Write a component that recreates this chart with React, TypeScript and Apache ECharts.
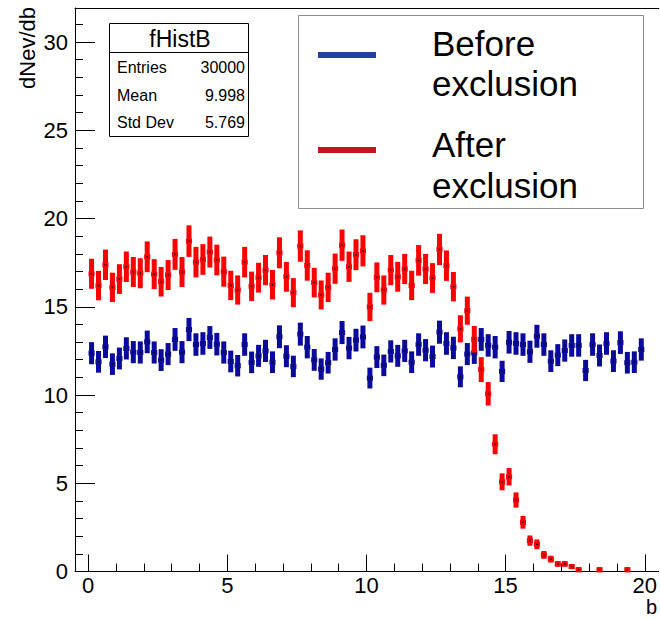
import React, { useEffect, useRef } from "react";
import * as echarts from "echarts";

// Histogram binning
const BIN_LOW = 0;
const BIN_WIDTH = 0.25;

// "Before exclusion" bin contents (dNev/db), 80 bins from 0 to 20
const beforeValues: number[] = [
  12.37, 11.88, 12.73, 11.75, 12.07, 12.64, 12.43, 12.41, 13.01, 12.41,
  11.98, 12.32, 13.15, 12.43, 13.71, 12.86, 12.92, 13.26, 12.88, 12.41,
  11.9, 11.66, 12.86, 11.85, 12.22, 12.5, 11.86, 13.3, 12.2, 11.62,
  13.45, 12.71, 11.99, 11.47, 11.83, 12.58, 13.54, 12.66, 13.11, 13.29,
  10.96, 12.15, 11.68, 12.47, 12.22, 12.5, 11.86, 12.86, 12.54, 12.18,
  13.56, 12.92, 12.67, 11.03, 12.32, 12.39, 13.15, 12.81, 12.71, 11.34,
  12.99, 12.92, 12.86, 12.45, 13.33, 12.86, 11.92, 12.26, 12.52, 12.81,
  12.81, 11.39, 12.86, 12.24, 12.92, 11.92, 12.97, 11.83, 11.86, 12.58,
];

// "After exclusion" bin contents (null = empty bin, not drawn)
const afterValues: (number | null)[] = [
  16.87, 16.2, 17.38, 16.1, 16.57, 17.27, 16.97, 16.9, 17.83, 16.85,
  16.42, 16.8, 17.97, 16.97, 18.72, 17.53, 17.68, 18.1, 17.65, 16.99,
  16.21, 15.95, 17.53, 16.16, 16.65, 17.08, 16.25, 18.06, 16.7, 15.8,
  18.44, 17.34, 16.37, 15.67, 16.1, 17.16, 18.49, 17.27, 17.95, 18.17,
  14.99, 16.67, 15.95, 17.08, 16.7, 17.14, 16.21, 17.63, 17.14, 16.63,
  18.25, 17.33, 16.14, 13.75, 14.78, 13.16, 11.44, 10.07, 7.21, 5.08,
  5.37, 4.05, 2.79, 1.75, 1.54, 0.94, 0.7, 0.43, 0.43, 0.28,
  0.1, null, null, 0.1, null, null, null, 0.1, null, null,
];

// Poisson-like error scale per series (err = k * sqrt(content))
const BEFORE_ERR_K = 0.17;
const AFTER_ERR_K = 0.2;

// Axis ticks
const xMajorTicks = [0, 5, 10, 15, 20];
const xMinorTicks = [1, 2, 3, 4, 6, 7, 8, 9, 11, 12, 13, 14, 16, 17, 18, 19];
const yMajorTicks = [0, 5, 10, 15, 20, 25, 30];
const yMinorTicks = [
  1, 2, 3, 4, 6, 7, 8, 9, 11, 12, 13, 14, 16, 17, 18, 19, 21, 22, 23, 24, 26,
  27, 28, 29, 31,
];

const X_MIN = -0.47;
const X_MAX = 20.5;
const Y_MIN = 0;
const Y_MAX = 31.93;

// Stats box
const statsTitle = "fHistB";
const statsLabels = ["Entries", "Mean", "Std Dev"];
const statsValues = ["30000", "9.998", "5.769"];

// Legend
const legendEntries = [
  { lines: ["Before", "exclusion"], color: "#22409e" },
  { lines: ["After", "exclusion"], color: "#c3161c" },
];

const yTitle = "dNev/db";
const xTitle = "b";

const FONT = "'Liberation Sans', Arial, Helvetica, sans-serif";

function buildData(values: (number | null)[], k: number) {
  const out: number[][] = [];
  values.forEach((v, i) => {
    if (v === null || v === undefined) return;
    const x = BIN_LOW + BIN_WIDTH * (i + 0.5);
    out.push([x, v, k * Math.sqrt(v)]);
  });
  return out;
}

function makeRender(color: string) {
  return (params: any, api: any) => {
    const x = api.value(0);
    const y = api.value(1);
    const e = api.value(2);
    const c = api.coord([x, y]);
    const top = api.coord([x, y + e]);
    const bot = api.coord([x, y - e]);
    const l = api.coord([x - BIN_WIDTH * 0.44, y]);
    const r = api.coord([x + BIN_WIDTH * 0.44, y]);
    const vh = Math.max(bot[1] - top[1] + 1, 5);
    const vy = (top[1] + bot[1]) / 2 - vh / 2;
    return {
      type: "group",
      children: [
        {
          type: "rect",
          shape: { x: c[0] - 2.5, y: vy, width: 5, height: vh },
          style: { fill: color },
        },
        {
          type: "rect",
          shape: { x: l[0], y: c[1] - 2.5, width: r[0] - l[0], height: 5 },
          style: { fill: color },
        },
        {
          type: "rect",
          shape: { x: c[0] - 0.75, y: c[1] - 0.75, width: 1.5, height: 1.5 },
          style: { fill: "#000" },
        },
      ],
    };
  };
}

export default function App() {
  const ref = useRef<HTMLDivElement>(null);

  useEffect(() => {
    if (!ref.current) return;
    const chart = echarts.init(ref.current, undefined, { renderer: "svg" });

    const axisLineStyle = { color: "#000", width: 1 };

    const graphics: any[] = [];
    // y-axis title
    graphics.push({
      type: "text",
      x: 27,
      y: 48,
      rotation: Math.PI / 2,
      style: {
        text: yTitle,
        font: `22px ${FONT}`,
        fill: "#000",
        textAlign: "center",
        textVerticalAlign: "middle",
      },
    });
    // x-axis title
    graphics.push({
      type: "text",
      x: 657,
      y: 607,
      style: {
        text: xTitle,
        font: `20px ${FONT}`,
        fill: "#000",
        textAlign: "right",
        textVerticalAlign: "middle",
      },
    });
    // Stats box
    graphics.push({
      type: "rect",
      shape: { x: 109.5, y: 23.5, width: 139, height: 113 },
      style: { fill: "#fff", stroke: "#000", lineWidth: 1 },
      z: 10,
    });
    graphics.push({
      type: "line",
      shape: { x1: 109.5, y1: 52.5, x2: 248.5, y2: 52.5 },
      style: { stroke: "#000", lineWidth: 1 },
      z: 11,
    });
    graphics.push({
      type: "text",
      x: 180,
      y: 39,
      z: 11,
      style: {
        text: statsTitle,
        font: `23px ${FONT}`,
        fill: "#000",
        textAlign: "center",
        textVerticalAlign: "middle",
      },
    });
    const rowY = [67, 95.5, 122.5];
    statsLabels.forEach((lab, i) => {
      graphics.push({
        type: "text",
        x: 117,
        y: rowY[i],
        z: 11,
        style: {
          text: lab,
          font: `16px ${FONT}`,
          fill: "#000",
          textAlign: "left",
          textVerticalAlign: "middle",
        },
      });
      graphics.push({
        type: "text",
        x: 245,
        y: rowY[i],
        z: 11,
        style: {
          text: statsValues[i],
          font: `16px ${FONT}`,
          fill: "#000",
          textAlign: "right",
          textVerticalAlign: "middle",
        },
      });
    });
    // Legend box
    graphics.push({
      type: "rect",
      shape: { x: 298.5, y: 15.5, width: 345, height: 193 },
      style: { fill: "#fff", stroke: "#8c8c8c", lineWidth: 1 },
      z: 10,
    });
    const legendLineY = [55, 150];
    const legendTextY = [
      [43, 83],
      [144, 185],
    ];
    legendEntries.forEach((ent, i) => {
      graphics.push({
        type: "line",
        shape: { x1: 318, y1: legendLineY[i], x2: 376, y2: legendLineY[i] },
        style: { stroke: ent.color, lineWidth: 6 },
        z: 11,
      });
      ent.lines.forEach((t, j) => {
        graphics.push({
          type: "text",
          x: 432,
          y: legendTextY[i][j],
          z: 11,
          style: {
            text: t,
            font: `35px ${FONT}`,
            fill: "#000",
            textAlign: "left",
            textVerticalAlign: "middle",
          },
        });
      });
    });

    chart.setOption({
      animation: false,
      backgroundColor: "#fff",
      grid: { left: 75, right: -1, top: 8, bottom: 47.5, containLabel: false },
      xAxis: [
        {
          type: "value",
          position: "bottom",
          min: X_MIN,
          max: X_MAX,
          axisLine: { show: true, onZero: false, lineStyle: axisLineStyle },
          axisTick: {
            show: true,
            inside: true,
            length: 17,
            customValues: xMajorTicks,
            lineStyle: axisLineStyle,
          },
          axisLabel: {
            customValues: xMajorTicks,
            fontSize: 22,
            fontFamily: FONT,
            color: "#000",
            margin: 3,
          },
          splitLine: { show: false },
        },
        {
          type: "value",
          position: "bottom",
          min: X_MIN,
          max: X_MAX,
          axisLine: { show: false, onZero: false },
          axisTick: {
            show: true,
            inside: true,
            length: 8,
            customValues: xMinorTicks,
            lineStyle: axisLineStyle,
          },
          axisLabel: { show: false },
          splitLine: { show: false },
        },
        {
          type: "value",
          position: "top",
          min: X_MIN,
          max: X_MAX,
          axisLine: { show: true, onZero: false, lineStyle: axisLineStyle },
          axisTick: { show: false },
          axisLabel: { show: false },
          splitLine: { show: false },
        },
      ],
      yAxis: [
        {
          type: "value",
          position: "left",
          min: Y_MIN,
          max: Y_MAX,
          axisLine: { show: true, onZero: false, lineStyle: axisLineStyle },
          axisTick: {
            show: true,
            inside: true,
            length: 20,
            customValues: yMajorTicks,
            lineStyle: axisLineStyle,
          },
          axisLabel: {
            customValues: yMajorTicks,
            fontSize: 22,
            fontFamily: FONT,
            color: "#000",
            margin: 7,
          },
          splitLine: { show: false },
        },
        {
          type: "value",
          position: "left",
          min: Y_MIN,
          max: Y_MAX,
          axisLine: { show: false, onZero: false },
          axisTick: {
            show: true,
            inside: true,
            length: 8,
            customValues: yMinorTicks,
            lineStyle: axisLineStyle,
          },
          axisLabel: { show: false },
          splitLine: { show: false },
        },
      ],
      series: [
        {
          type: "custom",
          name: "Before exclusion",
          xAxisIndex: 0,
          yAxisIndex: 0,
          data: buildData(beforeValues, BEFORE_ERR_K),
          encode: { x: 0, y: 1 },
          renderItem: makeRender("#0a0a9c"),
          z: 3,
        },
        {
          type: "custom",
          name: "After exclusion",
          xAxisIndex: 0,
          yAxisIndex: 0,
          data: buildData(afterValues, AFTER_ERR_K),
          encode: { x: 0, y: 1 },
          renderItem: makeRender("#ff0000"),
          z: 4,
        },
      ],
      graphic: graphics,
    });

    return () => chart.dispose();
  }, []);

  return (
    <div
      ref={ref}
      style={{ position: "absolute", left: 0, top: 0, width: 660, height: 619 }}
    />
  );
}
